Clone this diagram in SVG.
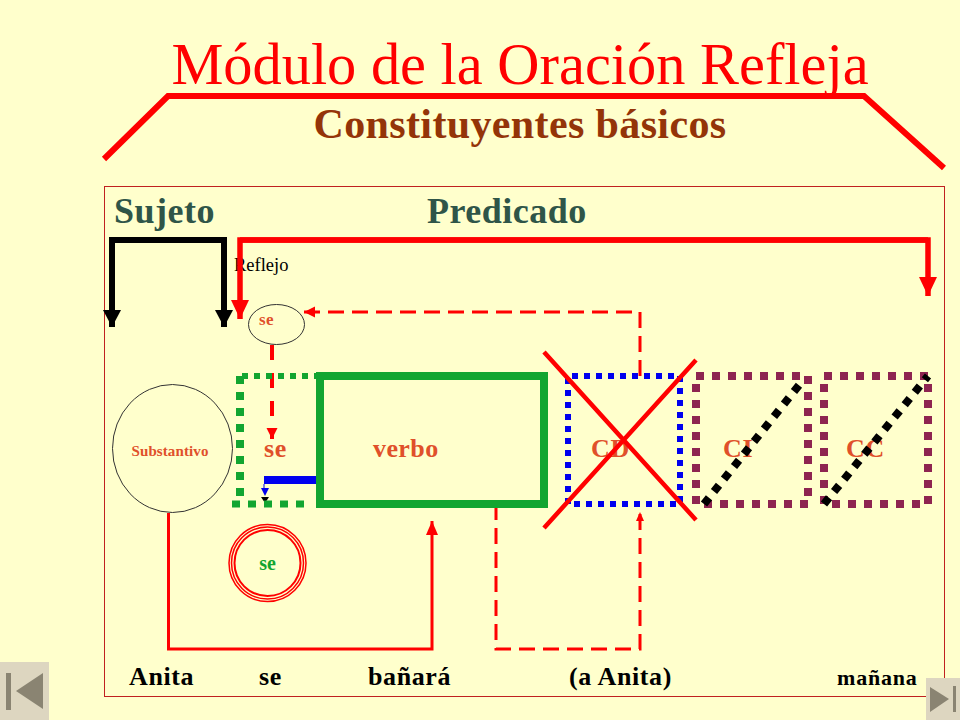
<svg xmlns="http://www.w3.org/2000/svg" width="960" height="720" viewBox="0 0 960 720">
<style>
.t{font-family:"Liberation Serif","Times New Roman",serif}
.b{font-weight:bold}
.o{fill:#e0502a}
.k{fill:#000}
.g{fill:#2f5548}
.r{fill:none;stroke:#ff0000}
.bk{fill:none;stroke:#000}
.pd{fill:none;stroke:#8e2450;stroke-width:8;stroke-dasharray:8 8}
.kd{fill:none;stroke:#000;stroke-width:8;stroke-dasharray:8 8}
.gs{fill:none;stroke:#12a530}
</style>
<defs>
<marker id="ar" markerUnits="userSpaceOnUse" markerWidth="22" markerHeight="20" refX="19" refY="9" orient="auto"><path d="M0 0L19 9L0 18Z" fill="#ff0000"/></marker>
<marker id="ak" markerUnits="userSpaceOnUse" markerWidth="20" markerHeight="20" refX="17" refY="9" orient="auto"><path d="M0 0L17 9L0 18Z" fill="#000"/></marker>
<marker id="am" markerUnits="userSpaceOnUse" markerWidth="16" markerHeight="14" refX="14" refY="6" orient="auto"><path d="M0 0L14 6L0 12Z" fill="#ff0000"/></marker>
<marker id="as" markerUnits="userSpaceOnUse" markerWidth="14" markerHeight="14" refX="11" refY="6" orient="auto"><path d="M0 0.500L11 6L0 11.500Z" fill="#ff0000"/></marker>
<marker id="at" markerUnits="userSpaceOnUse" markerWidth="12" markerHeight="10" refX="9" refY="4.500" orient="auto"><path d="M0 0.500L9 4.500L0 8.500Z" fill="#ff0000"/></marker>
</defs>
<rect width="960" height="720" fill="#ffffcc"/>
<g id="frame"><rect x="104.500" y="186.500" width="840" height="510" fill="none" stroke="#c02020" stroke-width="1"/></g>
<g id="nav-prev"><rect x="0" y="662" width="49" height="58" fill="#ddd6c0"/><rect x="6" y="673" width="5" height="37" fill="#8a8472"/><path d="M43 673V709L16 691Z" fill="#8a8472"/></g>
<g id="nav-next"><rect x="926" y="678" width="34" height="42" fill="#ddd6c0"/><path d="M930 687V712L949 699Z" fill="#8a8472"/><rect x="953" y="686" width="3" height="26" fill="#8a8472"/></g>
<g id="title">
<text class="t" x="520" y="84" font-size="58.400" text-anchor="middle" fill="#ff0000">Módulo de la Oración Refleja</text>
<text class="t b" x="520" y="138" font-size="42" letter-spacing="0.370" text-anchor="middle" fill="#943408">Constituyentes básicos</text>
<path class="r" stroke-width="6" d="M104 159L168 96H864L944 168"/>
</g>
<g id="headings" class="t b g" font-size="36" letter-spacing="0.500">
<text x="114" y="223">Sujeto</text><text x="427" y="223">Predicado</text>
</g>
<g id="node-reflejo"><text class="t k" x="234" y="271" font-size="18.500">Reflejo</text></g>
<g id="connectors">
<path class="bk" stroke-width="6" marker-end="url(#ak)" d="M224 240H112V327"/>
<path class="bk" stroke-width="6" marker-end="url(#ak)" d="M112 240H224V327"/>
<path class="r" stroke-width="5.500" marker-end="url(#ar)" d="M928 240H240V319"/>
<path class="r" stroke-width="5.500" marker-end="url(#ar)" d="M240 240H928V296"/>
<path class="r" stroke-width="3" stroke-dasharray="16 8" marker-end="url(#as)" d="M640 376V312H304"/>
<path class="r" stroke-width="4" stroke-dasharray="15 13" marker-end="url(#as)" d="M272 345V439"/>
<path class="r" stroke-width="3" marker-end="url(#am)" d="M168.500 513V649H432V521"/>
<path class="r" stroke-width="3" stroke-dasharray="16 8" marker-end="url(#at)" d="M496 504V649H640V512"/>
<path d="M264 484V490" fill="none" stroke="#0000ee" stroke-width="1"/>
<rect x="264" y="476" width="56" height="8" fill="#0000ee"/>
<path d="M261 488H269L265 496Z" fill="#0000ee"/>
<path d="M261 497H269L265 503Z" fill="#000"/>
</g>
<g id="node-se-top"><ellipse cx="276.500" cy="324.500" rx="28" ry="20" fill="none" stroke="#333"/><text class="t o" x="259" y="325" font-size="17" font-weight="bold" letter-spacing="0.500">se</text></g>
<g id="node-substantivo"><ellipse cx="172.500" cy="448.500" rx="60" ry="64" fill="none" stroke="#333" stroke-width="1"/><text class="t b o" x="170" y="456" font-size="15" text-anchor="middle" letter-spacing="0.100">Substantivo</text></g>
<g id="node-se-box"><path class="gs" stroke-width="6" stroke-dasharray="6 6" d="M242 376H320"/><path class="gs" stroke-width="8" stroke-dasharray="8 8" d="M240 376V496"/><path class="gs" stroke-width="7" stroke-dasharray="8 8" d="M232 504H304"/><text class="t b o" x="264" y="457" font-size="26" letter-spacing="0.600">se</text></g>
<g id="node-verbo"><rect x="320" y="376" width="224" height="128" class="gs" stroke-width="8"/><text class="t b o" x="373" y="457" font-size="26" letter-spacing="0.400">verbo</text></g>
<g id="node-se-ring"><circle cx="267.500" cy="563" r="38.500" fill="none" stroke="#ff0000" stroke-width="1.500"/><circle cx="267.500" cy="563" r="36" fill="none" stroke="#ff0000" stroke-width="1.500"/><circle cx="267.500" cy="563" r="33" fill="none" stroke="#ff0000" stroke-width="2"/><text class="t b" x="267.500" y="570" font-size="20" text-anchor="middle" fill="#12a530">se</text></g>
<g id="node-cd"><rect x="568" y="376" width="112" height="128" fill="none" stroke="#0000ee" stroke-width="6" stroke-dasharray="6 6" stroke-dashoffset="8"/><text class="t b o" x="591" y="457" font-size="26" letter-spacing="0.600">CD</text><path class="r" stroke-width="4.500" d="M544 352L696 520M544 528L696 360"/></g>
<g id="node-ci"><text class="t b o" x="723" y="457" font-size="26" letter-spacing="0.600">CI</text><rect x="696" y="376" width="112" height="128" class="pd"/><path class="kd" d="M704 504L800 384"/></g>
<g id="node-cc"><text class="t b o" x="846" y="457" font-size="26" letter-spacing="0.600">CC</text><rect x="824" y="376" width="104" height="128" class="pd"/><path class="kd" d="M824 504L928 376"/></g>
<g id="sentence" class="t b k" font-size="26" letter-spacing="0.600">
<text x="129" y="685">Anita</text><text x="259" y="685">se</text><text x="368" y="685">bañará</text><text x="569" y="685">(a Anita)</text><text x="837" y="685" font-size="22" letter-spacing="0.800">mañana</text>
</g>
</svg>
